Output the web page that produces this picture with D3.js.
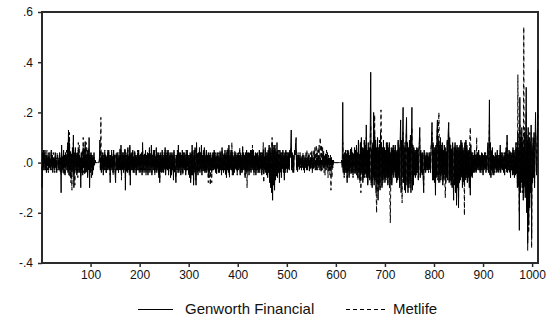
<!DOCTYPE html>
<html>
<head>
<meta charset="utf-8">
<script src="https://cdn.jsdelivr.net/npm/d3@7"></script>
<style>
  html, body { margin: 0; padding: 0; background: #fff; }
  svg { display: block; }
</style>
</head>
<body>
<svg id="chart" width="557" height="324"></svg>
<script>
// Daily returns, stored in hundredths (e.g. -10 = -0.10), observation 1..N
const genworthHundredths = [
  -10,3,-2,4,-3,1,5,-2,2,-4,3,-1,2,-3,4,-2,1,-3,2,5,
  -2,3,-4,1,-1,2,-3,4,-2,1,-4,2,3,-2,1,-3,4,-1,2,-12,
  7,-3,2,-4,5,-2,3,-5,4,-1,2,-3,6,-4,13,-5,8,-3,4,-6,
  3,-2,5,-4,11,-10,4,-3,6,-2,3,-5,4,-3,5,-2,3,-4,2,-10,
  4,-3,2,-5,6,-2,4,-3,7,-4,3,-2,5,-6,4,-3,10,-10,3,-4,
  4,-2,3,-5,2,-3,4,-1,1,0,0,0,0,0,0,0,0,1,9,-3,
  2,-4,3,-2,4,-5,2,-3,4,-2,3,-4,2,-3,4,-2,5,-3,2,-8,
  3,-2,4,-3,2,-4,5,-2,3,-4,-8,3,-2,4,-3,2,-4,3,-2,4,
  -3,7,-5,3,-2,4,-4,3,-2,5,-11,4,-3,2,-4,6,-3,2,-4,7,
  -9,3,-2,4,-3,5,-4,2,-3,4,-2,3,-5,2,-3,4,-2,5,-3,2,
  -4,3,-2,4,-5,8,-3,2,-4,3,-2,5,-4,3,-2,4,-5,3,-2,6,
  -4,3,-2,7,-5,3,-2,4,-3,5,-4,2,-3,6,-4,3,-2,4,-5,3,
  -8,4,-3,2,-4,5,-3,2,-4,3,-2,6,-5,3,-2,4,-3,5,-4,3,
  -2,4,-6,3,-5,4,-2,3,-7,5,-3,2,-4,-8,3,-2,4,-3,7,-4,
  3,-2,4,-5,3,-2,5,-4,3,-2,4,-3,2,-5,4,-3,5,-2,3,-4,
  2,-6,4,-8,3,-5,7,-4,3,-9,5,-3,6,-4,-9,8,-4,3,-5,4,
  -3,6,-4,3,-2,7,-5,3,-2,4,-3,6,-4,2,-3,5,-4,3,-2,4,
  -5,3,-2,4,-3,2,-4,3,-2,4,-3,5,-2,3,-4,2,-3,4,-2,3,
  -4,2,-3,4,-2,3,-5,6,-3,2,-4,3,-2,5,-4,3,-6,4,-3,5,
  -4,7,-5,3,-2,4,-3,5,-4,3,-5,2,-4,3,-2,4,-3,2,-4,3,
  -3,4,-2,3,-5,4,-3,2,-4,5,-3,4,-2,3,-6,4,-3,5,-4,3,
  -2,4,-5,3,-2,5,-4,3,-2,4,-3,5,-4,2,-3,4,-5,3,-2,4,
  -3,2,-4,5,-3,4,-2,3,-5,4,-3,5,-4,2,-3,6,-4,3,-5,4,
  -6,5,-4,7,-8,6,-10,4,-12,8,-15,5,-9,7,-11,6,-7,4,-5,8,
  -6,5,-4,3,-8,5,-3,4,-6,3,-2,5,-4,3,-7,4,-3,5,-2,3,
  -4,3,-2,4,-3,5,2,6,13,-3,4,-2,3,-4,2,5,3,8,10,-2,
  2,-3,3,-1,2,-2,3,-1,1,-2,2,-1,3,-2,1,-3,2,-1,2,-2,
  1,-3,2,-1,3,-2,1,-2,2,-1,3,-3,1,-2,2,-1,3,-2,1,-3,
  2,-1,2,-2,3,-1,1,-2,2,-3,1,-1,2,-2,3,-1,1,-2,2,-1,
  3,-2,1,-2,2,-1,1,-3,2,-1,2,-2,1,-1,1,0,0,0,0,0,
  0,0,0,0,0,0,0,0,0,0,0,1,-2,24,-4,3,-5,4,-3,5,
  -4,3,-8,5,-3,4,-6,3,-2,5,-4,6,-3,4,-5,3,-2,6,-4,5,
  -3,7,-5,4,-6,9,-4,3,-7,8,-5,10,-3,6,-8,4,-6,9,-5,7,
  -4,15,-6,5,-9,8,-5,6,-7,10,36,-8,5,-10,7,-6,20,-9,12,-7,
  9,-12,6,-8,10,-15,5,-9,7,-11,12,-6,8,-10,5,-7,9,-5,6,-8,
  4,-6,8,-5,7,-9,5,-6,8,-10,4,-7,6,-9,5,-4,7,-6,5,-3,
  7,-6,4,-8,5,-7,9,-5,6,-10,8,17,-12,9,-6,10,22,-8,6,-11,
  7,-12,10,18,-9,8,-12,6,-10,9,-7,11,-12,8,22,-11,7,-9,6,-5,
  4,-6,5,-4,6,-3,5,-7,4,8,14,-6,5,-4,3,-5,4,-6,-12,5,
  -3,2,-4,3,-2,4,-3,2,-3,4,-2,3,-4,5,9,16,-6,8,-7,5,
  -8,6,-13,7,-5,12,17,-6,9,-8,7,-5,10,-7,6,-4,8,-9,5,-6,
  7,-5,6,-8,4,-6,9,-7,12,16,-8,10,-6,7,-9,5,-10,8,-6,-15,
  6,-9,8,-12,5,-17,7,-10,6,-18,5,-8,7,-6,9,-5,8,-10,6,-7,
  5,-9,8,-6,9,-5,7,-8,4,-6,5,-10,6,-13,7,-5,4,-6,3,-4,
  3,-4,5,-3,2,-4,3,-2,4,-3,5,-2,3,-4,2,-3,4,-2,3,-5,
  2,-3,4,-2,3,-4,2,-3,5,8,-4,6,25,-5,8,-6,4,-3,6,-4,
  3,-5,2,-3,4,-2,3,-4,5,-3,2,-4,3,-2,7,-4,3,-2,4,-3,
  2,-4,3,-5,4,-2,6,-3,11,-4,3,-2,5,-3,4,-6,3,-2,4,-5,
  6,-4,5,-6,3,-5,8,-4,6,-10,12,-8,5,-27,26,-12,10,-8,14,-10,
  8,-15,6,-9,12,-14,8,30,-20,9,-32,14,-25,10,-18,8,-12,15,-30,6,
  -8,10,-6,12,-10,7,20,3,-5,8,14,37
];

const metlifeHundredths = [
  -3,4,-2,5,-3,2,4,-3,3,-2,5,-3,2,-4,3,-1,4,-2,1,3,
  -3,2,-3,4,-2,1,-4,3,-1,2,-3,4,2,-3,2,-2,3,-4,1,-5,
  4,-2,3,-3,4,-5,2,-4,3,-2,5,-3,8,-2,11,-4,12,-6,5,-8,
  4,-11,6,-3,8,-5,3,-9,5,-3,4,-4,3,-6,8,-4,7,-3,2,-6,
  3,-4,5,-3,10,-4,6,-5,9,-2,8,-4,3,-5,6,-2,5,-7,4,-3,
  3,-6,2,-4,3,-2,2,-1,1,0,0,0,0,0,0,0,0,1,5,-2,
  18,-3,4,-3,3,-4,3,-2,5,-3,2,-4,3,-2,5,-3,4,-2,3,-5,
  2,-3,5,-2,3,-5,4,-3,2,-4,-5,4,-3,3,-2,4,-3,2,-3,6,
  -2,5,-7,4,-3,3,-2,4,-3,6,-6,3,-4,3,-3,5,-2,3,-5,6,
  -5,4,-3,3,-2,4,-3,3,-4,5,-3,2,-4,3,-2,5,-3,4,-4,3,
  -3,4,-3,3,-4,6,-2,3,-3,4,-3,4,-5,2,-3,3,-4,4,-3,5,
  -3,4,-3,5,-4,2,-3,5,-2,4,-5,3,-2,5,-3,4,-3,3,-6,2,
  -6,3,-4,3,-3,4,-4,3,-3,4,-3,5,-4,2,-3,5,-2,4,-5,2,
  -3,3,-5,4,-4,3,-3,2,-5,4,-4,3,-3,-6,2,-3,5,-4,5,-3,
  4,-3,3,-4,2,-3,4,-5,4,-3,3,-2,3,-4,5,-2,4,-3,2,-5,
  3,-5,3,-7,4,-4,5,-5,2,-7,4,-4,5,-3,-7,6,-3,4,-4,3,
  -4,5,-3,4,-3,6,-4,2,-3,5,-4,5,-3,3,-4,4,-3,2,-3,-8,
  4,-6,3,-9,2,-5,-8,4,-3,3,-2,4,-3,4,-3,3,-5,3,-3,4,
  -3,3,-4,5,-3,2,-4,5,-2,3,-3,4,-3,4,-5,2,-5,5,-2,6,
  -3,5,-6,2,-3,5,-2,8,-5,4,-4,3,-3,5,-3,3,-2,3,-5,4,
  -2,3,-3,6,-4,3,-4,3,-3,7,-2,3,-3,2,-5,3,-4,4,-10,4,
  -3,3,-4,4,-3,4,-3,5,-3,7,-2,4,-5,3,-2,3,-4,4,-3,3,
  -4,3,-3,4,-4,3,-3,4,-4,3,-2,8,-8,3,-2,5,-3,4,-4,3,
  -5,4,-3,6,-6,5,-7,3,-8,10,-9,6,-7,5,-8,7,-5,3,-6,5,
  -4,4,-3,5,-6,4,-4,3,-5,4,-3,4,-3,2,-5,3,-4,4,-3,4,
  -3,4,-3,3,-2,4,3,4,6,-2,3,-4,2,-3,3,4,3,4,5,-3,
  3,-4,4,-2,3,-3,4,-2,2,-3,3,-2,4,-3,2,-4,3,-2,4,-3,
  5,-3,3,-2,4,-4,2,-3,4,-2,5,-4,3,-3,5,-2,6,-3,4,7,
  -2,5,-3,6,4,7,-3,10,5,-4,7,-3,6,-2,5,-4,3,-5,4,-3,
  5,-3,4,-6,3,-4,2,-5,3,-11,2,-6,1,-2,1,0,0,0,0,0,
  0,0,0,0,0,0,0,0,0,0,0,1,-1,8,-3,4,-6,3,-4,5,
  -3,4,-6,4,-4,5,-5,3,-3,6,-5,5,-4,3,-6,4,-3,5,-5,4,
  -4,6,-5,3,-7,8,-3,4,-8,7,-12,9,-4,5,-7,6,-5,8,-6,5,
  -5,10,-5,4,-8,6,-6,5,-6,9,15,-9,6,-8,8,-5,14,-7,19,-6,
  8,-10,-20,-6,9,-12,6,-8,9,-10,6,21,7,-9,6,-8,7,-6,5,-7,
  5,-7,6,-6,8,-8,6,-5,7,-12,-24,-6,5,-8,6,-5,6,-5,4,-4,
  6,-5,5,-7,4,-6,8,-6,5,-8,7,10,-9,8,-16,8,12,-7,5,-9,
  8,-10,9,12,-8,7,-10,5,-9,8,-6,9,-10,7,14,-9,6,-8,5,-4,
  5,-5,4,-5,5,-4,6,-6,5,7,10,-5,4,-3,4,-4,3,-5,-9,4,
  -2,3,-3,4,-3,3,-2,3,-4,3,-3,4,-3,6,8,12,-7,7,-6,6,
  -7,5,-10,6,-6,10,14,-7,12,20,6,-8,8,-6,7,-5,6,-8,4,-7,
  5,-6,-14,-7,5,-5,8,-6,10,12,-7,8,-7,6,-8,6,-9,7,-5,-12,
  5,-8,7,-10,6,-14,6,-9,5,-15,6,-7,6,-7,8,-6,7,-9,5,-8,
  4,-21,7,-7,8,-6,6,-7,5,-5,4,-8,9,14,6,-6,3,-5,4,-3,
  2,-3,4,-4,3,-3,10,-3,3,-2,4,-3,2,-3,3,-4,3,-3,4,-4,
  3,-2,3,-3,4,-3,3,-2,4,6,-3,5,15,-4,7,-5,5,-2,5,-5,
  2,-4,3,-4,3,-3,2,-3,4,-4,3,-3,2,-3,5,-3,4,-3,3,-2,
  3,-3,4,-4,3,-3,5,-4,8,-3,4,-3,4,-4,5,-5,4,-3,3,-4,
  5,-5,4,-5,4,-4,6,-5,8,-8,35,-10,6,-20,15,-10,12,-6,10,-12,
  10,-12,54,-10,14,-12,6,20,-18,11,-35,8,-28,12,-14,9,-10,12,-34,5,
  -6,8,-5,10,-8,6,12,4,-4,6,10,20
];

const seriesNames = ["Genworth Financial", "Metlife"];
const xTickValues = [100, 200, 300, 400, 500, 600, 700, 800, 900, 1000];
const yTickValues = [-0.4, -0.2, 0.0, 0.2, 0.4, 0.6];
const yTickLabels = ["-.4", "-.2", ".0", ".2", ".4", ".6"];

const genworth = genworthHundredths.map(v => v / 100);
const metlife = metlifeHundredths.map(v => v / 100);
const nObs = Math.max(genworth.length, metlife.length);

const FONT = '"Liberation Sans", Arial, sans-serif';
const AXIS_COLOR = "#2b2b2b";
const svg = d3.select("#chart");
const plot = { left: 42, right: 538, top: 12, bottom: 263 };

const x = d3.scaleLinear().domain([1, nObs]).range([plot.left, plot.right]);
const y = d3.scaleLinear().domain([-0.4, 0.6]).range([plot.bottom, plot.top]);

const line = d3.line()
  .x((d, i) => x(i + 1))
  .y(d => y(d));

// plot frame as four explicit edges
const frameEdges = [
  [plot.left, plot.top, plot.right, plot.top],
  [plot.right, plot.top, plot.right, plot.bottom],
  [plot.left, plot.bottom, plot.right, plot.bottom],
  [plot.left, plot.top, plot.left, plot.bottom]
];
svg.append("g").selectAll("line")
  .data(frameEdges)
  .join("line")
  .attr("x1", d => d[0]).attr("y1", d => d[1])
  .attr("x2", d => d[2]).attr("y2", d => d[3])
  .attr("stroke", AXIS_COLOR)
  .attr("stroke-width", 2)
  .attr("stroke-linecap", "square");

// both series
const seriesGroup = svg.append("g");

seriesGroup.append("path")
  .datum(genworth)
  .attr("d", line)
  .attr("fill", "none")
  .attr("stroke", "#000")
  .attr("stroke-width", 1);

seriesGroup.append("path")
  .datum(metlife)
  .attr("d", line)
  .attr("fill", "none")
  .attr("stroke", "#000")
  .attr("stroke-width", 1)
  .attr("stroke-dasharray", "4,3");

// y axis ticks and labels
const gy = svg.append("g")
  .attr("transform", `translate(${plot.left},0)`)
  .call(d3.axisLeft(y)
    .tickValues(yTickValues)
    .tickSize(4)
    .tickSizeOuter(0)
    .tickPadding(5)
    .tickFormat((d, i) => yTickLabels[i]));
gy.select(".domain").remove();
gy.selectAll(".tick line").attr("stroke", AXIS_COLOR).attr("stroke-width", 1.5);
gy.selectAll(".tick text")
  .attr("font-family", FONT)
  .attr("font-size", 12)
  .attr("fill", "#111");

// x axis ticks and labels
const gx = svg.append("g")
  .attr("transform", `translate(0,${plot.bottom})`)
  .call(d3.axisBottom(x)
    .tickValues(xTickValues)
    .tickSize(4)
    .tickSizeOuter(0)
    .tickPadding(3)
    .tickFormat(d3.format("d")));
gx.select(".domain").remove();
gx.selectAll(".tick line").attr("stroke", AXIS_COLOR).attr("stroke-width", 1.5);
gx.selectAll(".tick text")
  .attr("font-family", FONT)
  .attr("font-size", 12)
  .attr("fill", "#111");

// legend
const legendY = 309;
const legendItems = [
  { name: seriesNames[0], x0: 138, x1: 173, tx: 185, dash: null },
  { name: seriesNames[1], x0: 346, x1: 385, tx: 393, dash: "4,3" }
];
const legend = svg.append("g");
legendItems.forEach(item => {
  legend.append("line")
    .attr("x1", item.x0).attr("x2", item.x1)
    .attr("y1", legendY + 0.5).attr("y2", legendY + 0.5)
    .attr("stroke", "#000").attr("stroke-width", 1)
    .attr("stroke-dasharray", item.dash);
  legend.append("text")
    .attr("x", item.tx).attr("y", legendY)
    .attr("dy", "0.35em")
    .attr("font-family", FONT)
    .attr("font-size", 15)
    .attr("fill", "#111")
    .text(item.name);
});
</script>
</body>
</html>
